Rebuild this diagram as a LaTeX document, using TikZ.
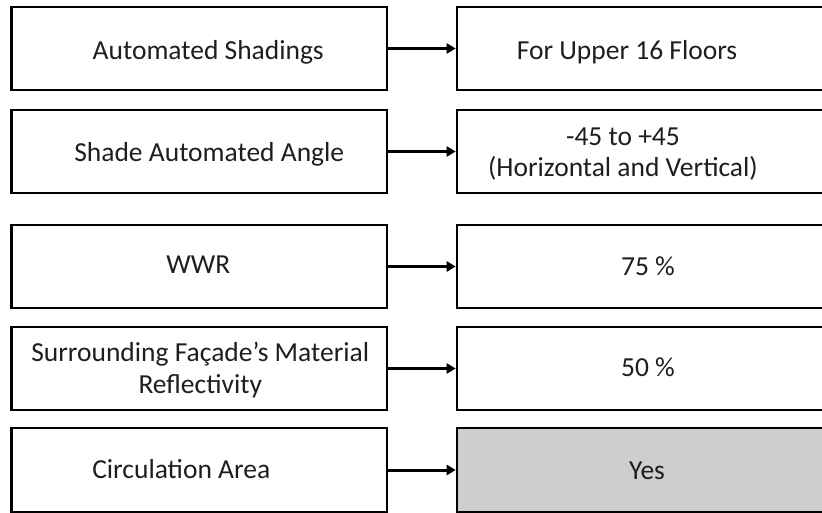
\documentclass[tikz,border=0pt]{standalone}
\usepackage{fontspec}
\setmainfont{Carlito}
\usetikzlibrary{arrows.meta,calc}
\definecolor{fillgray}{RGB}{207,206,207}
\definecolor{txtcol}{RGB}{30,30,30}
\begin{document}
\begin{tikzpicture}[x=1pt,y=-1pt,
  box/.style={draw=black, line width=2.6pt, minimum height=83pt, inner sep=0pt},
  lbox/.style={box, minimum width=375.5pt},
  rbox/.style={box, minimum width=382pt},
  txt/.style={font=\fontsize{27.5}{31.6}\selectfont, text=txtcol, align=center, anchor=base, inner sep=0pt},
  arr/.style={line width=3pt, -{Triangle[length=9pt,width=10pt]}}]
\path[use as bounding box, clip] (0,0) rectangle (822,513);
% left column
\node[lbox] (a1) at (199.25,48.5) {};
\node[lbox] (a2) at (199.25,151.5) {};
\node[lbox] (a3) at (199.25,266.5) {};
\node[lbox] (a4) at (199.25,368.5) {};
\node[lbox, minimum height=84pt] (a5) at (199.25,470) {};
% right column
\node[rbox] (b1) at (648,48.5) {};
\node[rbox] (b2) at (648,151.5) {};
\node[rbox] (b3) at (648,266.5) {};
\node[rbox] (b4) at (648,368.5) {};
\node[rbox, minimum height=84pt, fill=fillgray] (b5) at (648,470) {};
% texts (anchor = baseline of the last line)
\node[txt] (ta1) at ($(a1.center)+(9,11.5)$) {Automated Shadings};
\node[txt] (ta2) at ($(a2.center)+(10,10.2)$) {Shade Automated Angle};
\node[txt] (ta3) at ($(a3.center)+(-1,6.5)$) {WWR};
\node[txt] (ta4) at ($(a4.center)+(1,24.5)$) {Surrounding Façade’s Material\\Reflectivity};
\node[txt] (ta5) at ($(a5.center)+(-18,8)$) {Circulation Area};
\node[txt] (tb1) at ($(b1.center)+(-21,11.5)$) {For Upper 16 Floors};
\node[txt] (tb2) at ($(b2.center)+(-25,25.2)$) {-45 to +45\\(Horizontal and Vertical)};
\node[txt] (tb3) at ($(b3.center)+(0,9.5)$) {75 \%};
\node[txt] (tb4) at ($(b4.center)+(0,7.5)$) {50 \%};
\node[txt] (tb5) at ($(b5.center)+(-1,9)$) {Yes};
% connectors
\draw[arr] (a1.east) -- (b1.west);
\draw[arr] (a2.east) -- (b2.west);
\draw[arr] (a3.east) -- (b3.west);
\draw[arr] (a4.east) -- (b4.west);
\draw[arr] (a5.east) -- (b5.west);
\end{tikzpicture}
\end{document}
